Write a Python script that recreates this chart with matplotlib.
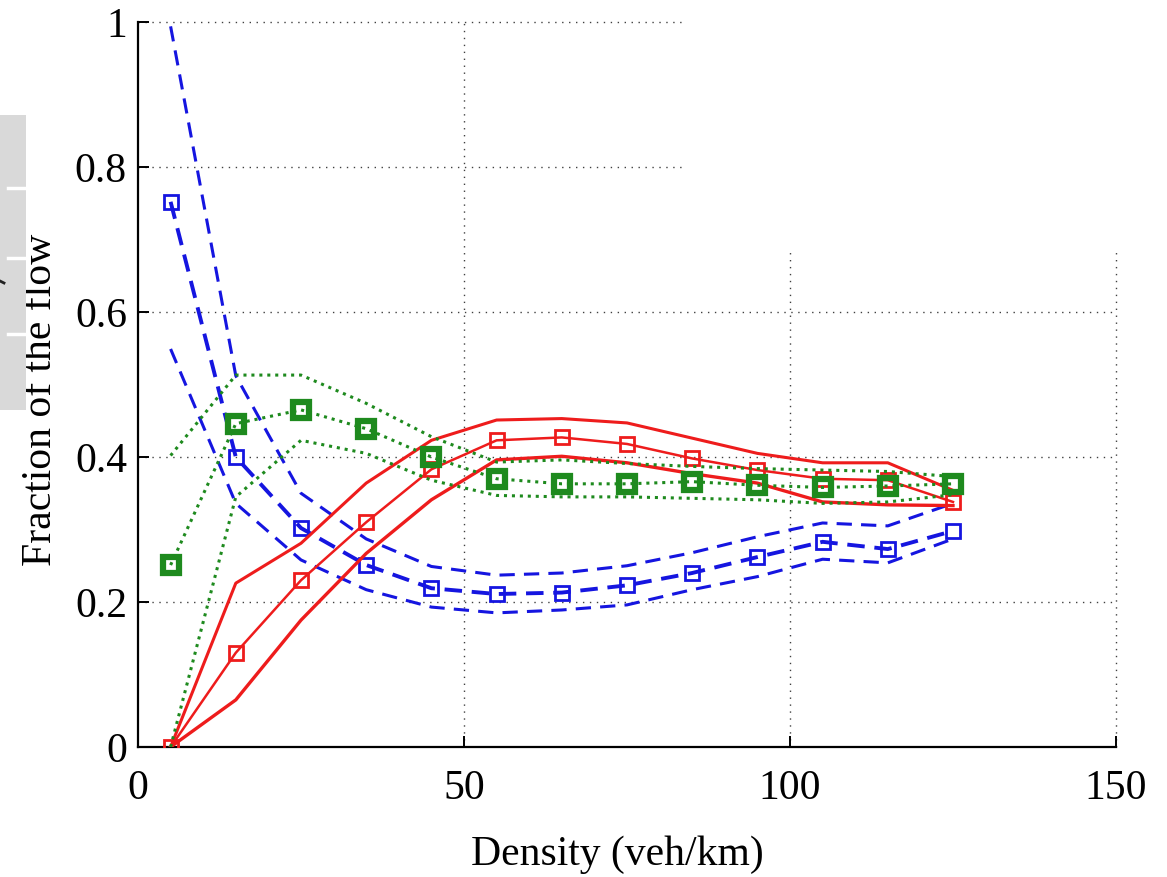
import matplotlib
matplotlib.use("Agg")
import matplotlib.pyplot as plt
from matplotlib.patches import Rectangle
from matplotlib.lines import Line2D
from matplotlib.ticker import FuncFormatter

# ---------------- data ----------------
density = [5, 15, 25, 35, 45, 55, 65, 75, 85, 95, 105, 115, 125]

blue_mean  = [0.752, 0.400, 0.302, 0.251, 0.219, 0.211, 0.213, 0.223, 0.240, 0.262, 0.283, 0.273, 0.298]
blue_upper = [0.994, 0.512, 0.350, 0.287, 0.249, 0.237, 0.240, 0.250, 0.268, 0.290, 0.309, 0.305, 0.336]
blue_lower = [0.549, 0.336, 0.258, 0.217, 0.193, 0.185, 0.189, 0.196, 0.217, 0.235, 0.259, 0.254, 0.287]

red_mean  = [0.000, 0.130, 0.230, 0.310, 0.383, 0.423, 0.427, 0.418, 0.398, 0.382, 0.370, 0.368, 0.338]
red_upper = [0.000, 0.226, 0.281, 0.364, 0.423, 0.451, 0.453, 0.447, 0.426, 0.405, 0.392, 0.392, 0.354]
red_lower = [0.000, 0.065, 0.175, 0.267, 0.341, 0.396, 0.401, 0.392, 0.377, 0.364, 0.338, 0.334, 0.333]

green_mean  = [0.251, 0.446, 0.465, 0.439, 0.400, 0.370, 0.363, 0.363, 0.366, 0.361, 0.358, 0.360, 0.363]
green_upper = [0.402, 0.513, 0.513, 0.474, 0.428, 0.393, 0.396, 0.391, 0.387, 0.384, 0.382, 0.380, 0.373]
green_lower = [0.000, 0.345, 0.423, 0.405, 0.368, 0.347, 0.345, 0.345, 0.343, 0.341, 0.336, 0.338, 0.348]

x_ticks = [0, 50, 100, 150]
y_ticks = [0, 0.2, 0.4, 0.6, 0.8, 1.0]
x_label = "Density (veh/km)"
y_label = "Fraction of the flow"

# ---------------- style ----------------
BLUE = "#1515e0"
RED = "#ee1c1c"
GREEN = "#1e8a1e"
plt.rcParams['font.family'] = ['Liberation Serif', 'DejaVu Serif']

W, H = 1167, 877
fig = plt.figure(figsize=(W / 100, H / 100), dpi=100)
ax = fig.add_axes([138 / W, 1 - 747 / H, (1116 - 138) / W, (747 - 22) / H])

ax.set_xlim(0, 150)
ax.set_ylim(0, 1)

# grid (MATLAB-like dotted)
for xv in x_ticks[1:]:
    ax.axvline(xv, color='k', lw=1.0, ls=(0, (1, 4)), alpha=0.75, zorder=0.5, clip_on=False)
for yv in y_ticks[1:]:
    ax.axhline(yv, color='k', lw=1.0, ls=(0, (1, 4)), alpha=0.75, zorder=0.5, clip_on=False)

# blue (dashed)
ax.plot(density, blue_upper, color=BLUE, lw=2.2, ls=(0, (5, 3)), zorder=2)
ax.plot(density, blue_lower, color=BLUE, lw=2.2, ls=(0, (5, 3)), zorder=2)
ax.plot(density, blue_mean, color=BLUE, lw=2.8, ls=(0, (4.5, 2.5)), marker='s', ms=10,
        mfc='none', mec=BLUE, mew=2, zorder=3)

# red (solid)
ax.plot(density, red_upper, color=RED, lw=2.2, zorder=4)
ax.plot(density, red_lower, color=RED, lw=2.4, zorder=4)
ax.plot(density, red_mean, color=RED, lw=1.8, marker='s', ms=10,
        mfc='none', mec=RED, mew=2, zorder=5)

# green (dotted)
ax.plot(density, green_upper, color=GREEN, lw=2.2, ls=(0, (1, 1.6)), zorder=6)
ax.plot(density, green_lower, color=GREEN, lw=2.2, ls=(0, (1, 1.6)), zorder=6)
ax.plot(density, green_mean, color=GREEN, lw=2.2, ls=(0, (1, 1.6)), marker='s', ms=11,
        mfc='none', mec=GREEN, mew=4.5, zorder=7)

# axes styling
ax.spines['top'].set_visible(False)
ax.spines['right'].set_visible(False)
ax.spines['left'].set_linewidth(1.6)
ax.spines['bottom'].set_linewidth(1.6)
ax.set_xticks(x_ticks)
ax.set_yticks(y_ticks)
ax.yaxis.set_major_formatter(FuncFormatter(lambda v, p: ("%g" % v)))
ax.xaxis.set_major_formatter(FuncFormatter(lambda v, p: ("%g" % v)))
ax.tick_params(axis='both', direction='in', length=8, width=1.4, labelsize=30)
ax.tick_params(axis='x', pad=16)
ax.tick_params(axis='y', pad=8)

fig.text(617 / W, 1 - 855 / H, x_label, fontsize=30, ha='center', va='center')
fig.text(41 / W, 1 - 400 / H, y_label, fontsize=30, ha='center', va='center', rotation=90)

# white patch covering upper right corner
fig.add_artist(Rectangle((683 / W, 1 - 252 / H), 1 - 683 / W, 252 / H,
                         transform=fig.transFigure, facecolor='white', edgecolor='none', zorder=20))
# gray patch on left edge
fig.add_artist(Rectangle((0, 1 - 410 / H), 26 / W, (410 - 115) / H,
                         transform=fig.transFigure, facecolor='#d9d9d9', edgecolor='none', zorder=20))
for yy in [188, 258, 334]:
    fig.add_artist(Line2D([8 / W, 26 / W], [1 - yy / H, 1 - yy / H], transform=fig.transFigure,
                          color='white', lw=2.5, zorder=21))
fig.add_artist(Line2D([0, 4 / W], [1 - 281 / H, 1 - 283 / H], transform=fig.transFigure,
                      color='#222222', lw=2, zorder=21))

fig.savefig("out.png", dpi=100)
